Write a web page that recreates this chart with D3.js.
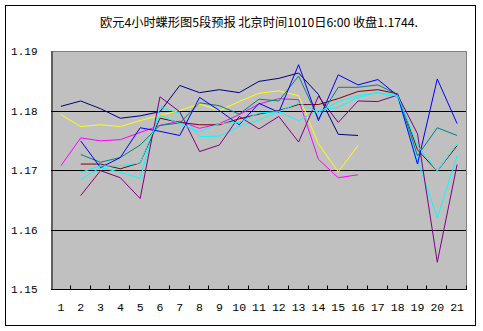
<!DOCTYPE html>
<html>
<head>
<meta charset="utf-8">
<script src="https://cdn.jsdelivr.net/npm/d3@7/dist/d3.min.js"></script>
<style>
  body { margin: 0; background: #fff; }
  svg { display: block; }
</style>
</head>
<body>
<svg id="chart" width="483" height="331"></svg>
<script>
// Forecast periods (4-hour bars)
const categories = ["1","2","3","4","5","6","7","8","9","10","11","12","13","14","15","16","17","18","19","20","21"];
const yTickValues = [1.15, 1.16, 1.17, 1.18, 1.19];
const titleText = "欧元4小时蝶形图5段预报 北京时间1010日6:00 收盘1.1744.";

// Price paths, one per forecast line (null = no value for that period)
const navySeries    = [1.1807,1.1816,1.1803,1.1787,1.1791,1.1798,1.1842,1.1830,1.1835,1.1830,1.1849,1.1854,1.1863,1.1827,1.1760,1.1758,null,null,null,null,null];
const magentaSeries = [1.1707,1.1754,1.1749,1.1751,1.1763,1.1775,1.1782,1.1770,1.1778,1.1793,1.1811,1.1820,1.1818,1.1718,1.1687,1.1692,null,null,null,null,null];
const yellowSeries  = [1.1793,1.1773,1.1776,1.1773,1.1783,1.1792,1.1800,1.1811,1.1800,1.1815,1.1829,1.1833,1.1825,1.1744,1.1697,1.1741,null,null,null,null,null];
const cyanSeries    = [null,1.1684,1.1704,1.1696,1.1686,1.1806,1.1795,1.1756,1.1757,1.1773,1.1784,1.1798,1.1783,1.1800,1.1805,1.1822,1.1830,1.1822,1.1716,1.1620,1.1724];
const purpleSeries  = [null,1.1657,1.1699,1.1687,1.1652,1.1823,1.1798,1.1731,1.1742,1.1790,1.1769,1.1790,1.1747,1.1824,1.1780,1.1816,1.1815,1.1826,1.1761,1.1545,1.1709];
const darkRedSeries = [null,1.1710,1.1710,1.1702,1.1712,1.1787,1.1780,1.1776,1.1776,1.1786,1.1794,1.1800,1.1810,1.1810,1.1820,1.1832,1.1835,1.1828,1.1734,1.1698,1.1741];
const tealSeries    = [null,1.1726,1.1713,1.1721,1.1742,1.1775,1.1779,1.1813,1.1808,1.1794,1.1819,1.1816,1.1858,1.1786,1.1839,1.1839,1.1843,1.1827,1.1724,1.1771,1.1758];
const blueSeries    = [null,1.1749,1.1704,1.1721,1.1771,1.1765,1.1758,1.1822,1.1800,1.1776,1.1812,1.1797,1.1877,1.1783,1.1860,1.1843,1.1852,1.1825,1.1710,1.1853,1.1778];
const cyan2Series   = [null,1.1696,1.1707,1.1707,1.1712,1.1792,1.1778,1.1764,1.1778,1.1780,1.1796,1.1798,1.1813,1.1797,1.1815,1.1825,1.1830,1.1825,1.1741,1.1698,1.1744];

const seriesList = [
  { values: navySeries,    color: "#000080" },
  { values: magentaSeries, color: "#FF00FF" },
  { values: yellowSeries,  color: "#FFFF00" },
  { values: cyanSeries,    color: "#00FFFF" },
  { values: purpleSeries,  color: "#800080" },
  { values: darkRedSeries, color: "#800000" },
  { values: tealSeries,    color: "#008080" },
  { values: blueSeries,    color: "#0000FF" },
  { values: cyan2Series,   color: "#00FFFF" }
];

const svg = d3.select("#chart");
const plot = { left: 51, right: 467, top: 51, bottom: 289 };
const monoFont = "'Liberation Mono', 'DejaVu Sans Mono', monospace";

// Outer chart frame
svg.append("rect")
  .attr("x", 5.5).attr("y", 5.5)
  .attr("width", 470).attr("height", 320)
  .attr("fill", "#fff").attr("stroke", "#000").attr("stroke-width", 1);

const x = d3.scaleBand().domain(categories).range([plot.left, plot.right]);
const y = d3.scaleLinear().domain([1.15, 1.19]).range([plot.bottom, plot.top]);
const cx = c => x(c) + x.bandwidth() / 2;

// Plot area
svg.append("rect")
  .attr("x", plot.left).attr("y", plot.top)
  .attr("width", plot.right - plot.left).attr("height", plot.bottom - plot.top)
  .attr("fill", "#C0C0C0");

// Horizontal gridlines
svg.append("g").selectAll("line")
  .data(yTickValues.filter(v => v > 1.15 && v < 1.19))
  .join("line")
  .attr("x1", plot.left).attr("x2", plot.right)
  .attr("y1", d => Math.round(y(d)) + 0.5).attr("y2", d => Math.round(y(d)) + 0.5)
  .attr("stroke", "#000").attr("stroke-width", 1);

// Plot border: grey top/right
svg.append("path")
  .attr("d", `M${plot.left},${plot.top + 0.5}H${plot.right - 0.5}V${plot.bottom}`)
  .attr("fill", "none").attr("stroke", "#808080").attr("stroke-width", 1);

// Series lines
const line = d3.line()
  .defined(d => d.v != null)
  .x(d => cx(d.c))
  .y(d => y(d.v));

svg.append("g")
  .selectAll("path")
  .data(seriesList)
  .join("path")
  .attr("d", s => line(s.values.map((v, i) => ({ c: categories[i], v }))))
  .attr("fill", "none")
  .attr("stroke", s => s.color)
  .attr("stroke-width", 1)
  .attr("stroke-linejoin", "round");

// Y axis
const yAxis = d3.axisLeft(y).tickValues(yTickValues).tickFormat(d3.format(".2f")).tickSize(0).tickPadding(14);
const gy = svg.append("g").attr("transform", `translate(${plot.left + 0.5},0)`).call(yAxis);
gy.select(".domain").attr("stroke", "#000").attr("stroke-width", 1);
gy.selectAll("text")
  .attr("font-family", monoFont)
  .attr("font-size", 11).attr("fill", "#000");

// X axis with inward ticks at band boundaries
const gx = svg.append("g").attr("transform", `translate(0,${plot.bottom + 0.5})`);
gx.append("line")
  .attr("x1", plot.left).attr("x2", plot.right)
  .attr("stroke", "#000").attr("stroke-width", 1);
gx.selectAll("line.tick")
  .data(categories.slice(1).concat(["end"]))
  .join("line")
  .attr("class", "tick")
  .attr("x1", d => Math.round(d === "end" ? plot.right : x(d)) - 0.5)
  .attr("x2", d => Math.round(d === "end" ? plot.right : x(d)) - 0.5)
  .attr("y1", 0).attr("y2", -4)
  .attr("stroke", "#000").attr("stroke-width", 1);
gx.selectAll("text")
  .data(categories)
  .join("text")
  .attr("x", d => cx(d))
  .attr("y", 21)
  .attr("text-anchor", "middle")
  .attr("font-family", monoFont)
  .attr("font-size", 11.5).attr("fill", "#000")
  .text(d => d);

// Title
svg.append("text")
  .attr("x", (plot.left + plot.right) / 2)
  .attr("y", 27)
  .attr("text-anchor", "middle")
  .attr("font-family", "'Noto Sans CJK SC', sans-serif")
  .attr("font-size", 12)
  .attr("textLength", 318)
  .attr("lengthAdjust", "spacingAndGlyphs")
  .attr("fill", "#000")
  .text(titleText);
</script>
</body>
</html>
